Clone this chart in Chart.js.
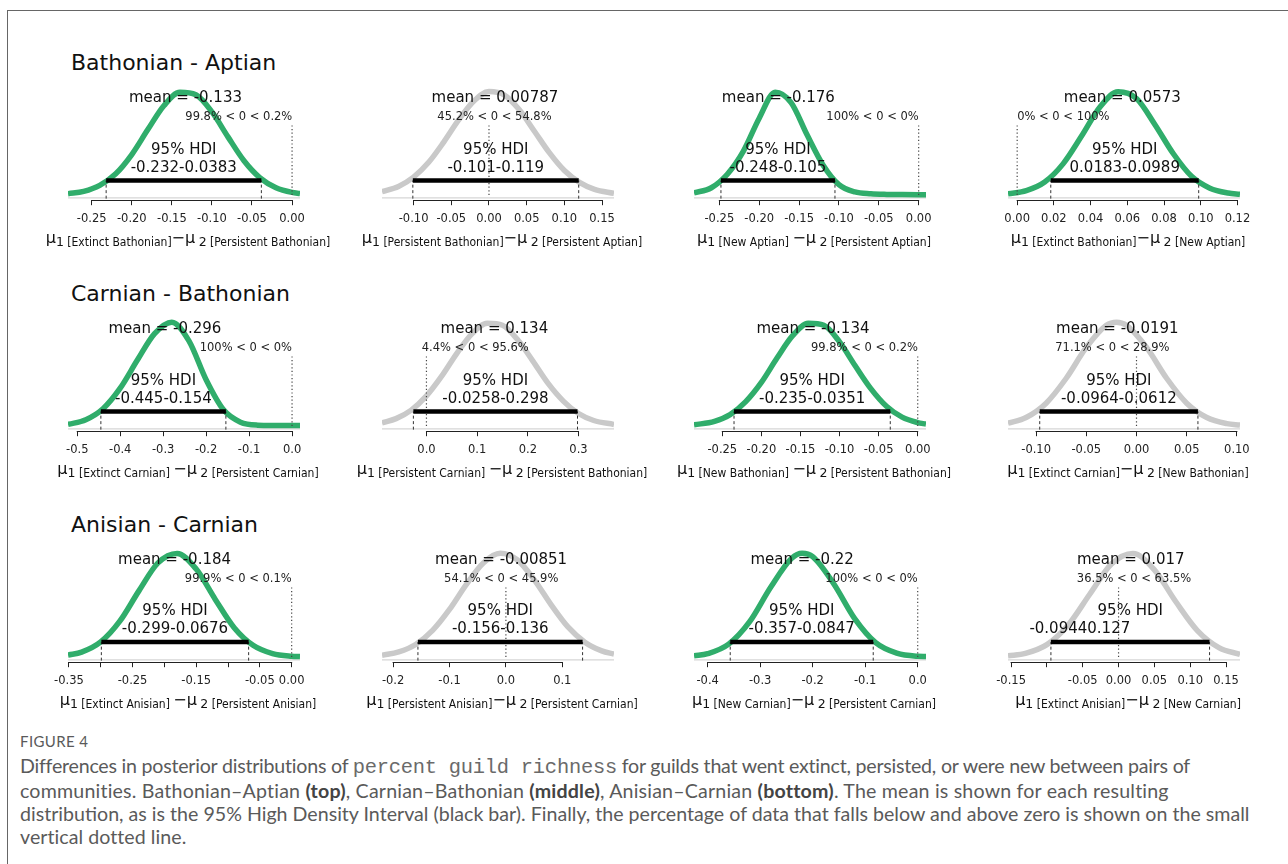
<!DOCTYPE html>
<html>
<head>
<meta charset="utf-8">
<title>Figure 4</title>
<script src="https://cdn.jsdelivr.net/npm/chart.js@4.4.1/dist/chart.umd.min.js"></script>
<style>
  html, body { margin: 0; padding: 0; background: #fff; }
  #page { position: relative; width: 1288px; height: 864px; overflow: hidden; }
  #frame { position: absolute; left: 7px; top: 10px; width: 1300px; height: 900px; border-left: 1px solid #666; border-top: 1px solid #666; }
  .row-title { position: absolute; left: 71px; font: 22px "DejaVu Sans", sans-serif; line-height: 22px; color: #111; white-space: nowrap; }
  .panel { position: absolute; }
  .xlab { position: absolute; width: 330px; text-align: center; white-space: nowrap; color: #111; font-family: "DejaVu Sans", sans-serif; line-height: 16px; }
  .xlab .mu { font-size: 16px; }
  .xlab .minus { font-size: 16px; }
  .xlab .sub { font-size: 12px; font-stretch: condensed; vertical-align: -3px; }
  .xlab .num { font-size: 12.5px; font-stretch: normal; }
  #caption { position: absolute; left: 20px; top: 730px; color: #5a5a5a; font-family: Lato, "Open Sans", sans-serif; }
  #caption .fig { font-size: 15px; letter-spacing: 0.4px; line-height: 22px; }
  #caption .txt { font-size: 17.5px; line-height: 23px; white-space: nowrap; margin-top: 1.5px; }
  #caption .mono { font-family: "Liberation Mono", monospace; font-size: 1.04em; color: #6a6a6a; }
  #caption b { color: #444; }
</style>
</head>
<body>
<div id="page">
  <div id="frame"></div>
  <div id="caption">
    <div class="fig">FIGURE 4</div>
    <div class="txt" id="capText"><span class="ln">Differences in posterior distributions of <span class="mono">percent guild richness</span> for guilds that went extinct, persisted, or were new between pairs of</span><br><span class="ln">communities. Bathonian–Aptian <b>(top)</b>, Carnian–Bathonian <b>(middle)</b>, Anisian–Carnian <b>(bottom)</b>. The mean is shown for each resulting</span><br><span class="ln">distribution, as is the 95% High Density Interval (black bar). Finally, the percentage of data that falls below and above zero is shown on the small</span><br><span class="ln">vertical dotted line.</span></div>
  </div>
</div>
<script>
// row titles, one per row of four panels
const rowTitles = ["Bathonian - Aptian", "Carnian - Bathonian", "Anisian - Carnian"];

// panels read left to right, top to bottom
const groupOne = ["Extinct Bathonian", "Persistent Bathonian", "New Aptian", "Extinct Bathonian",
  "Extinct Carnian", "Persistent Carnian", "New Bathonian", "Extinct Carnian",
  "Extinct Anisian", "Persistent Anisian", "New Carnian", "Extinct Anisian"];
const groupTwo = ["Persistent Bathonian", "Persistent Aptian", "Persistent Aptian", "New Aptian",
  "Persistent Carnian", "Persistent Bathonian", "Persistent Bathonian", "New Bathonian",
  "Persistent Anisian", "Persistent Carnian", "Persistent Carnian", "New Carnian"];
const minusGap = ["", "", " ", "", " ", " ", " ", "", " ", "", "", ""];

const meanVals = [-0.133, 0.00787, -0.176, 0.0573, -0.296, 0.134, -0.134, -0.0191, -0.184, -0.00851, -0.22, 0.017];
const hdiLow = [-0.232, -0.101, -0.248, 0.0183, -0.445, -0.0258, -0.235, -0.0964, -0.299, -0.156, -0.357, -0.0944];
const hdiHigh = [-0.0383, 0.119, -0.105, 0.0989, -0.154, 0.298, -0.0351, 0.0612, -0.0676, 0.136, -0.0847, 0.127];
const hdiLabels = ["-0.232-0.0383", "-0.101-0.119", "-0.248-0.105", "0.0183-0.0989",
  "-0.445-0.154", "-0.0258-0.298", "-0.235-0.0351", "-0.0964-0.0612",
  "-0.299-0.0676", "-0.156-0.136", "-0.357-0.0847", "-0.09440.127"];
// density height where the HDI bar sits (share of the peak)
const hdiHeight = [0.14, 0.14, 0.14, 0.14, 0.14, 0.14, 0.14, 0.14, 0.145, 0.145, 0.145, 0.145];
const pctBelow = [99.8, 45.2, 100, 0, 100, 4.4, 99.8, 71.1, 99.9, 54.1, 100, 36.5];
const pctAbove = [0.2, 54.8, 0, 100, 0, 95.6, 0.2, 28.9, 0.1, 45.9, 0, 63.5];

const axisTicks = [
  [-0.25, -0.2, -0.15, -0.1, -0.05, 0],
  [-0.1, -0.05, 0, 0.05, 0.1, 0.15],
  [-0.25, -0.2, -0.15, -0.1, -0.05, 0],
  [0, 0.02, 0.04, 0.06, 0.08, 0.1, 0.12],
  [-0.5, -0.4, -0.3, -0.2, -0.1, 0],
  [0, 0.1, 0.2, 0.3],
  [-0.25, -0.2, -0.15, -0.1, -0.05, 0],
  [-0.1, -0.05, 0, 0.05, 0.1],
  [-0.35, -0.3, -0.25, -0.2, -0.15, -0.1, -0.05, 0],
  [-0.2, -0.1, 0, 0.1],
  [-0.4, -0.3, -0.2, -0.1, 0],
  [-0.15, -0.1, -0.05, 0, 0.05, 0.1, 0.15]
];
const tickLabels = [
  ["-0.25", "-0.20", "-0.15", "-0.10", "-0.05", "0.00"],
  ["-0.10", "-0.05", "0.00", "0.05", "0.10", "0.15"],
  ["-0.25", "-0.20", "-0.15", "-0.10", "-0.05", "0.00"],
  ["0.00", "0.02", "0.04", "0.06", "0.08", "0.10", "0.12"],
  ["-0.5", "-0.4", "-0.3", "-0.2", "-0.1", "0.0"],
  ["0.0", "0.1", "0.2", "0.3"],
  ["-0.25", "-0.20", "-0.15", "-0.10", "-0.05", "0.00"],
  ["-0.10", "-0.05", "0.00", "0.05", "0.10"],
  ["-0.35", "", "-0.25", "", "-0.15", "", "-0.05", "0.00"],
  ["-0.2", "-0.1", "0.0", "0.1"],
  ["-0.4", "-0.3", "-0.2", "-0.1", "0.0"],
  ["-0.15", "", "-0.05", "0.00", "0.05", "0.10", "0.15"]
];

// posterior density curves, heights as a share of the peak
const curveX = [
  [-0.2796, -0.26, -0.24, -0.22, -0.2, -0.18, -0.16, -0.14, -0.12, -0.1, -0.08, -0.06, -0.04, -0.02, 0, 0.0099],
  [-0.1419, -0.12, -0.1, -0.08, -0.06, -0.04, -0.02, 0, 0.02, 0.04, 0.06, 0.08, 0.1, 0.12, 0.14, 0.1658],
  [-0.2818, -0.26, -0.24, -0.22, -0.2, -0.18, -0.16, -0.14, -0.12, -0.1, -0.08, -0.06, -0.04, -0.02, 0, 0.0092],
  [-0.005, 0.005, 0.015, 0.025, 0.035, 0.045, 0.055, 0.065, 0.075, 0.085, 0.095, 0.105, 0.115, 0.1214],
  [-0.5215, -0.48, -0.44, -0.4, -0.36, -0.32, -0.28, -0.24, -0.2, -0.16, -0.12, -0.08, -0.04, 0, 0.0185],
  [-0.0877, -0.06, -0.03, 0, 0.03, 0.06, 0.09, 0.12, 0.15, 0.18, 0.21, 0.24, 0.27, 0.3, 0.33, 0.37],
  [-0.2862, -0.26, -0.24, -0.22, -0.2, -0.18, -0.16, -0.14, -0.12, -0.1, -0.08, -0.06, -0.04, -0.02, 0, 0.0106],
  [-0.128, -0.11, -0.09, -0.07, -0.05, -0.03, -0.02, -0.01, 0.01, 0.03, 0.05, 0.07, 0.09, 0.1031],
  [-0.3514, -0.33, -0.3, -0.27, -0.24, -0.21, -0.18, -0.15, -0.12, -0.09, -0.06, -0.03, 0, 0.0131],
  [-0.2197, -0.19, -0.16, -0.13, -0.1, -0.07, -0.04, -0.01, 0.02, 0.05, 0.08, 0.11, 0.14, 0.17, 0.1917],
  [-0.426, -0.4, -0.36, -0.32, -0.28, -0.24, -0.22, -0.2, -0.16, -0.12, -0.08, -0.04, 0, 0.0158],
  [-0.1543, -0.13, -0.1, -0.07, -0.04, -0.01, 0.02, 0.05, 0.08, 0.11, 0.14, 0.1695]
];
const curveY = [
  [0.012, 0.035, 0.093, 0.205, 0.39, 0.63, 0.86, 0.99, 0.965, 0.8, 0.56, 0.33, 0.165, 0.07, 0.025, 0.015],
  [0.032, 0.083, 0.172, 0.315, 0.51, 0.725, 0.905, 0.996, 0.965, 0.823, 0.617, 0.408, 0.236, 0.122, 0.055, 0.016],
  [0.02, 0.07, 0.2, 0.42, 0.74, 0.99, 0.89, 0.58, 0.29, 0.1, 0.03, 0.012, 0.006, 0.004, 0.003, 0.003],
  [0.011, 0.042, 0.125, 0.3, 0.565, 0.845, 0.995, 0.93, 0.68, 0.4, 0.18, 0.066, 0.019, 0.007],
  [0.015, 0.061, 0.167, 0.365, 0.635, 0.89, 1.0, 0.82, 0.445, 0.158, 0.037, 0.008, 0.005, 0.004, 0.004],
  [0.03, 0.071, 0.153, 0.29, 0.48, 0.7, 0.89, 0.99, 0.97, 0.83, 0.625, 0.41, 0.24, 0.12, 0.053, 0.015],
  [0.011, 0.045, 0.11, 0.235, 0.42, 0.655, 0.87, 0.99, 0.97, 0.81, 0.58, 0.36, 0.19, 0.085, 0.033, 0.019],
  [0.027, 0.082, 0.22, 0.46, 0.757, 0.97, 1.0, 0.97, 0.757, 0.46, 0.22, 0.082, 0.023, 0.009],
  [0.02, 0.047, 0.145, 0.345, 0.637, 0.907, 0.998, 0.847, 0.555, 0.28, 0.11, 0.033, 0.008, 0.005],
  [0.017, 0.049, 0.12, 0.256, 0.458, 0.7, 0.906, 0.999, 0.937, 0.746, 0.505, 0.29, 0.143, 0.059, 0.028],
  [0.011, 0.032, 0.124, 0.34, 0.672, 0.951, 1.0, 0.967, 0.706, 0.37, 0.138, 0.037, 0.007, 0.005],
  [0.011, 0.035, 0.119, 0.31, 0.607, 0.896, 0.998, 0.839, 0.532, 0.255, 0.091, 0.025]
];

const GREEN = "#30ad6b";
const GREY = "#c9c9c9";
const COL_LEFT = [68, 382, 694, 1008];
const PLOT_W = 232;
const PAD = 40;
const AXIS_Y = [200, 431, 662];
const FONT = "'DejaVu Sans', sans-serif";
// right ends of the caption lines in the reference
const CAPTION_ENDS = [1190, 1169, 1250, 186];

// texts that R's plotPost puts on each panel, drawn over the curve
const panelText = {
  id: "panelText",
  afterDatasetsDraw(chart, args, opts) {
    const i = opts.index;
    const { ctx, scales: { x, y } } = chart;
    ctx.save();
    ctx.fillStyle = "#111";
    ctx.textBaseline = "alphabetic";

    ctx.font = `15px ${FONT}`;
    ctx.textAlign = "center";
    ctx.fillText(`mean = ${meanVals[i]}`, x.getPixelForValue(meanVals[i]), y.getPixelForValue(0.9));

    const barY = y.getPixelForValue(hdiHeight[i]);
    const mid = x.getPixelForValue((hdiLow[i] + hdiHigh[i]) / 2);
    ctx.fillText("95% HDI", mid, barY - 26.5);
    // the last label lost its dash and sits to the left of the centre
    ctx.textAlign = hdiLabels[i].indexOf("-", 1) < 0 ? "right" : "center";
    ctx.fillText(hdiLabels[i], mid, barY - 8.5);

    ctx.font = `11.5px ${FONT}`;
    ctx.textAlign = "left";
    ctx.fillStyle = "#222";
    const pct = `${pctBelow[i]}% < 0 < ${pctAbove[i]}%`;
    const w = ctx.measureText(pct).width;
    ctx.fillText(pct, x.getPixelForValue(0) - w * pctBelow[i] / 100, y.getPixelForValue(0.7) - 2);
    ctx.restore();
  },
  afterDraw(chart, args, opts) {
    const ticks = axisTicks[opts.index];
    const { ctx, chartArea, scales: { x } } = chart;
    const ay = Math.round(chartArea.bottom) + 0.5;
    ctx.save();
    ctx.strokeStyle = "#222";
    ctx.lineWidth = 1;
    ctx.beginPath();
    ctx.moveTo(x.getPixelForValue(ticks[0]) - 0.5, ay);
    ctx.lineTo(x.getPixelForValue(ticks[ticks.length - 1]) + 0.5, ay);
    ctx.stroke();
    ctx.restore();
  }
};

function segment(x0, y0, x1, y1) {
  return [{ x: x0, y: y0 }, { x: x1, y: y1 }];
}

function drawPanel(i) {
  const r = Math.floor(i / 4);
  const c = i % 4;
  const page = document.getElementById("page");
  const canvas = document.createElement("canvas");
  canvas.width = PLOT_W + 2 * PAD;
  canvas.height = 160;
  canvas.className = "panel";
  canvas.style.left = (COL_LEFT[c] - PAD) + "px";
  page.appendChild(canvas);

  const xs = curveX[i];
  const curve = xs.map((x, k) => ({ x, y: curveY[i][k] }));
  const credible = hdiLow[i] > 0 || hdiHigh[i] < 0;
  const ht = hdiHeight[i];
  const xMin = xs[0];
  const xMax = xs[xs.length - 1];

  const chart = new Chart(canvas, {
    type: "line",
    data: {
      datasets: [
        { data: segment(hdiLow[i], ht, hdiHigh[i], ht), borderColor: "#000", borderWidth: 4.5, borderCapStyle: "butt", order: 1 },
        { data: segment(hdiLow[i], -0.035, hdiLow[i], ht), borderColor: "#333", borderWidth: 1, borderDash: [3, 2.5], order: 2 },
        { data: segment(hdiHigh[i], -0.035, hdiHigh[i], ht), borderColor: "#333", borderWidth: 1, borderDash: [3, 2.5], order: 2 },
        { data: segment(0, 0, 0, 0.672), borderColor: "#444", borderWidth: 1.2, borderDash: [1.2, 2.4], order: 2 },
        { data: curve, borderColor: credible ? GREEN : GREY, borderWidth: 5.5, cubicInterpolationMode: "monotone", borderJoinStyle: "round", order: 3 },
        { data: segment(xMin, -0.028, xMax, -0.028), borderColor: "#d6d6d6", borderWidth: 1.2, order: 4 }
      ]
    },
    options: {
      animation: false,
      responsive: false,
      events: [],
      layout: { padding: { left: PAD, right: PAD, top: 13, bottom: 0 } },
      elements: { point: { radius: 0 }, line: { tension: 0, fill: false } },
      plugins: { legend: { display: false }, tooltip: { enabled: false }, panelText: { index: i } },
      scales: {
        x: {
          type: "linear",
          min: xMin,
          max: xMax,
          afterBuildTicks: (axis) => { axis.ticks = axisTicks[i].map(v => ({ value: v })); },
          ticks: {
            autoSkip: false, maxRotation: 0, minRotation: 0, padding: 7, color: "#222",
            font: { family: "DejaVu Sans", size: 11.5 },
            callback: (v, k) => tickLabels[i][k]
          },
          grid: { drawOnChartArea: false, drawTicks: true, tickLength: 5, color: "#222", lineWidth: 1 },
          border: { display: false }
        },
        y: { display: false, min: -0.05, max: 1.05 }
      }
    },
    plugins: [panelText]
  });
  canvas.style.top = (AXIS_Y[r] - chart.chartArea.bottom) + "px";

  const lab = document.createElement("div");
  lab.className = "xlab";
  lab.style.left = (COL_LEFT[c] + PLOT_W / 2 + 4 - 165) + "px";
  lab.style.top = (AXIS_Y[r] + 30) + "px";
  lab.innerHTML = `<span class="mu">μ</span><span class="sub"><span class="num">1</span> [${groupOne[i]}]${minusGap[i]}</span>` +
    `<span class="minus">−</span><span class="mu">μ</span><span class="sub"> <span class="num">2</span> [${groupTwo[i]}]</span>`;
  page.appendChild(lab);
}

function drawTitles() {
  const page = document.getElementById("page");
  rowTitles.forEach((t, r) => {
    const el = document.createElement("div");
    el.className = "row-title";
    el.style.top = (AXIS_Y[r] - 148) + "px";
    el.textContent = t;
    page.appendChild(el);
  });
}

// the caption font is not installed, so stretch each line to the reference width
function fitCaption() {
  const txt = document.getElementById("capText");
  const lines = txt.querySelectorAll(".ln");
  const left = txt.getBoundingClientRect().left;
  const w3 = lines[2].getBoundingClientRect().width;
  const size = parseFloat(getComputedStyle(txt).fontSize);
  txt.style.fontSize = (size * (CAPTION_ENDS[2] - left) / w3).toFixed(2) + "px";
  lines.forEach((ln, k) => {
    if (k === 2) return;
    const w = ln.getBoundingClientRect().width;
    const n = ln.textContent.length;
    ln.style.letterSpacing = ((CAPTION_ENDS[k] - left - w) / n).toFixed(3) + "px";
  });
}

drawTitles();
for (let i = 0; i < 12; i++) drawPanel(i);
fitCaption();
</script>
</body>
</html>
